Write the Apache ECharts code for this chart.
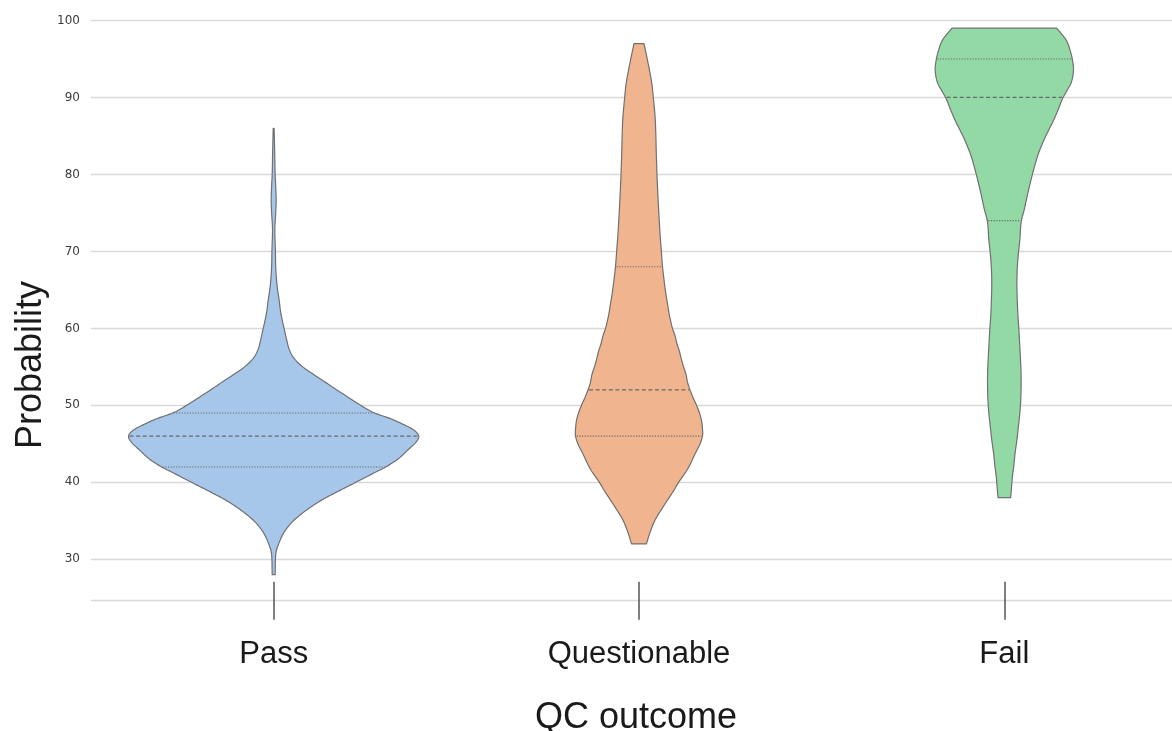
<!DOCTYPE html>
<html>
<head>
<meta charset="utf-8">
<script src="https://cdn.jsdelivr.net/npm/echarts@6/dist/echarts.min.js"></script>
<style>
  html, body { margin: 0; padding: 0; background: #ffffff; }
  #chart { width: 1172px; height: 731px; }
</style>
</head>
<body>
<div id="chart"></div>
<script>
// QC outcome categories
const categories = ['Pass', 'Questionable', 'Fail'];

// Kernel density profiles: [probability, relative density]
const passProfile = [
  [28, 0.010], [29, 0.011], [30, 0.012], [31, 0.017], [32, 0.034], [33.3, 0.065],
  [34.5, 0.110], [35.5, 0.164], [36.6, 0.240], [37.7, 0.329], [38.8, 0.438], [40, 0.562],
  [41, 0.664], [42, 0.767], [43, 0.849], [44.2, 0.918], [45.2, 0.973], [46, 0.993],
  [46.8, 0.959], [47.5, 0.890], [48.3, 0.795], [49, 0.692], [50, 0.596], [51, 0.514],
  [52, 0.432], [52.8, 0.370], [54, 0.274], [55, 0.199], [56, 0.144], [57.1, 0.110],
  [58.5, 0.089], [59.7, 0.075], [61.4, 0.055], [62.5, 0.045], [63.6, 0.038], [65, 0.027],
  [66, 0.021], [68, 0.014], [70, 0.012], [73, 0.008], [75, 0.014], [76.6, 0.017],
  [78.5, 0.014], [80, 0.010], [83, 0.007], [86, 0.003]
];
const questionableProfile = [
  [32, 0.051], [33.3, 0.072], [35.1, 0.110], [37.2, 0.178], [39, 0.240], [40, 0.271],
  [41.6, 0.329], [43.7, 0.384], [45, 0.418], [46.1, 0.435], [47, 0.434], [48, 0.428],
  [49, 0.414], [50, 0.394], [51, 0.370], [52, 0.349], [53, 0.332], [54, 0.322],
  [55, 0.305], [56, 0.290], [57, 0.277], [58, 0.260], [59, 0.247], [60, 0.229],
  [61, 0.216], [62, 0.205], [63, 0.197], [64, 0.188], [65, 0.180], [66.5, 0.170],
  [68, 0.161], [70, 0.153], [72, 0.145], [74.5, 0.137], [77, 0.130], [80, 0.123],
  [83, 0.118], [85.3, 0.115], [87.5, 0.110], [89.8, 0.099], [91.8, 0.088], [93.9, 0.068],
  [95.5, 0.051], [97, 0.034]
];
const failProfile = [
  [38, 0.043], [39.5, 0.050], [40.7, 0.055], [42, 0.064], [43.7, 0.073], [45.5, 0.086],
  [47.2, 0.096], [49, 0.106], [50.6, 0.112], [52.8, 0.115], [54.5, 0.114], [55.8, 0.111],
  [58, 0.105], [60, 0.099], [62, 0.092], [64, 0.088], [66, 0.086], [68, 0.089],
  [69.7, 0.096], [71.5, 0.106], [73.9, 0.116], [75.5, 0.137], [77.5, 0.160], [80, 0.192],
  [82.7, 0.233], [84.8, 0.279], [87, 0.336], [88.5, 0.370], [89.8, 0.397], [91, 0.432],
  [91.8, 0.455], [93.5, 0.473], [94.9, 0.466], [96, 0.452], [97.4, 0.425], [98.3, 0.390],
  [99, 0.358]
];

// Quartiles [Q1, median, Q3]
const passQuartiles = [42, 46, 49];
const questionableQuartiles = [46, 52, 68];
const failQuartiles = [74, 90, 95];

// Y tick labels
const yTickValues = [30, 40, 50, 60, 70, 80, 90, 100];
const yMin = 24.62;
const yMax = 100;

const profiles = [passProfile, questionableProfile, failProfile];
const quartileSets = [passQuartiles, questionableQuartiles, failQuartiles];
const fills = ['#a6c7ea', '#f0b58e', '#93d9a5'];
const outline = '#707070';

// Cubic Hermite slopes of density over probability (non-uniform spacing)
function slopes(profile) {
  const n = profile.length;
  const m = [];
  for (let k = 0; k < n; k++) {
    if (k === 0) {
      m.push((profile[1][1] - profile[0][1]) / (profile[1][0] - profile[0][0]));
    } else if (k === n - 1) {
      m.push((profile[k][1] - profile[k - 1][1]) / (profile[k][0] - profile[k - 1][0]));
    } else {
      const a = (profile[k][1] - profile[k - 1][1]) / (profile[k][0] - profile[k - 1][0]);
      const b = (profile[k + 1][1] - profile[k][1]) / (profile[k + 1][0] - profile[k][0]);
      m.push((a + b) / 2);
    }
  }
  return m;
}

// Sample the profile densely along a smooth curve for drawing the outline
function smoothOutline(profile, steps) {
  const m = slopes(profile);
  const out = [];
  for (let k = 0; k < profile.length - 1; k++) {
    const v0 = profile[k][0], v1 = profile[k + 1][0];
    const d0 = profile[k][1], d1 = profile[k + 1][1];
    const h = v1 - v0;
    for (let s = 0; s < steps; s++) {
      const t = s / steps, t2 = t * t, t3 = t2 * t;
      const d = (2 * t3 - 3 * t2 + 1) * d0 + (t3 - 2 * t2 + t) * h * m[k] +
                (-2 * t3 + 3 * t2) * d1 + (t3 - t2) * h * m[k + 1];
      out.push([v0 + t * h, Math.max(d, 0.001)]);
    }
  }
  out.push(profile[profile.length - 1]);
  return out;
}

function densityAt(curve, v) {
  for (let k = 0; k < curve.length - 1; k++) {
    const a = curve[k], b = curve[k + 1];
    if (v >= a[0] && v <= b[0]) {
      const t = (v - a[0]) / (b[0] - a[0]);
      return a[1] + t * (b[1] - a[1]);
    }
  }
  return 0;
}

function renderViolin(params, api) {
  const i = api.value(0);
  const curve = smoothOutline(profiles[i], 10);
  const quart = quartileSets[i];
  const band = api.size([1, 0])[0];
  const halfScale = band * 0.4;

  const left = [];
  const right = [];
  curve.forEach(function (p) {
    const c = api.coord([i, p[0]]);
    const w = p[1] * halfScale;
    left.push([c[0] - w, c[1]]);
    right.push([c[0] + w, c[1]]);
  });
  const points = left.concat(right.reverse());

  const children = [{
    type: 'polygon',
    shape: { points: points },
    style: { fill: fills[i], stroke: outline, lineWidth: 1.2, lineJoin: 'round' }
  }];

  quart.forEach(function (q, k) {
    const c = api.coord([i, q]);
    const w = densityAt(curve, q) * halfScale;
    const isMedian = k === 1;
    children.push({
      type: 'line',
      shape: { x1: c[0] - w + 1, y1: c[1], x2: c[0] + w - 1, y2: c[1] },
      style: {
        stroke: '#686868',
        lineWidth: isMedian ? 1.3 : 1.1,
        lineDash: isMedian ? [4, 2.6] : [1.2, 1.5]
      }
    });
  });

  return { type: 'group', children: children };
}

const chart = echarts.init(document.getElementById('chart'), null, { renderer: 'canvas' });

chart.setOption({
  animation: false,
  backgroundColor: '#ffffff',
  grid: {
    left: 91, width: 1096, top: 20.5, bottom: 130.3,
    containLabel: false, outerBoundsMode: 'none'
  },
  xAxis: {
    type: 'category',
    data: categories,
    boundaryGap: true,
    offset: -19,
    axisLine: { show: false },
    axisTick: {
      show: true,
      alignWithLabel: true,
      length: 38,
      lineStyle: { color: '#555555', width: 1.5 }
    },
    axisLabel: {
      margin: 57,
      fontFamily: 'Liberation Sans',
      fontSize: 31,
      color: '#1a1a1a'
    },
    splitLine: { show: false },
    name: 'QC outcome',
    nameLocation: 'middle',
    nameGap: 118,
    nameTextStyle: {
      fontFamily: 'Liberation Sans', fontSize: 36, color: '#1a1a1a',
      padding: [0, 6, 0, 0]
    }
  },
  yAxis: {
    type: 'value',
    min: yMin,
    max: yMax,
    axisLine: { show: false },
    axisTick: { show: false, customValues: [yMin].concat(yTickValues) },
    axisLabel: {
      customValues: yTickValues,
      margin: 11,
      fontFamily: 'DejaVu Sans',
      fontSize: 12,
      color: '#3c3c3c'
    },
    splitLine: { show: true, lineStyle: { color: '#d9d9d9', width: 1.4 } }
  },
  graphic: [{
    type: 'text',
    x: 31,
    y: 365,
    rotation: Math.PI / 2,
    style: {
      text: 'Probability',
      fontFamily: 'Liberation Sans',
      fontSize: 36,
      fill: '#1a1a1a',
      textAlign: 'center',
      textVerticalAlign: 'middle'
    }
  }],
  series: [{
    type: 'custom',
    coordinateSystem: 'cartesian2d',
    silent: true,
    clip: false,
    data: categories.map(function (c, i) { return [i, quartileSets[i][1]]; }),
    renderItem: renderViolin
  }]
});
</script>
</body>
</html>
